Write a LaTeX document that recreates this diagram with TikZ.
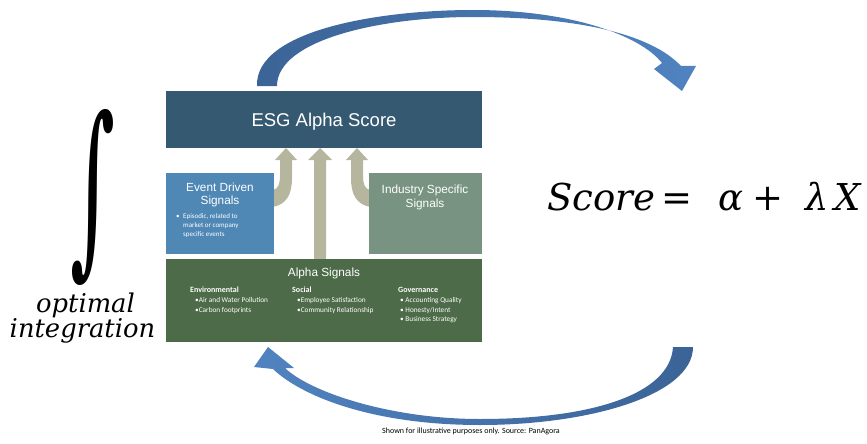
\RequirePackage{fix-cm}
\documentclass[tikz,border=0pt]{standalone}
\usepackage{fontspec}
\newfontfamily\arialf{Liberation Sans}
\newfontfamily\calf{Carlito}
\newfontfamily\cambf{DejaVu Serif}
\definecolor{esgc}{HTML}{365972}
\definecolor{eventc}{HTML}{4F87B5}
\definecolor{indc}{HTML}{789381}
\definecolor{alphac}{HTML}{4E6B49}
\definecolor{greyarr}{HTML}{B6B59E}
\definecolor{blued}{HTML}{3B6396}
\definecolor{bluel}{HTML}{5083C0}
\begin{document}
\begin{tikzpicture}[x=1pt,y=-1pt,
  box/.style={rectangle, inner sep=0pt, draw=none},
  boxtitle/.style={text=white, font=\arialf\fontsize{11.8}{13}\selectfont, inner sep=0pt, anchor=base},
  smalltxt/.style={text=white, font=\calf\fontsize{7}{8}\selectfont, inner sep=0pt, anchor=base west},
  itemtxt/.style={text=white, font=\calf\fontsize{7.3}{8}\selectfont, inner sep=0pt, anchor=base west},
  headtxt/.style={text=white, font=\calf\bfseries\fontsize{8}{9}\selectfont, inner sep=0pt, anchor=base west},
  mathtxt/.style={inner sep=0pt, font=\cambf\itshape\fontsize{25.8}{28}\selectfont},
  blockarrow/.style={fill=greyarr, draw=none},
  bigarrow/.style={draw=none}]
\useasboundingbox (0,0) rectangle (867,444);

% big blue curved arrows
\shade[bigarrow, left color=blued, right color=bluel]
  (257,86) .. controls (255,30) and (380,10) .. (473,10)
  .. controls (570,10) and (640,35) .. (662,63)
  -- (654,69) -- (682,91) -- (696,66) -- (681,66)
  .. controls (650,33) and (575,17) .. (473,17)
  .. controls (380,17) and (277,40) .. (277,86) -- cycle;
\shade[bigarrow, left color=bluel, right color=blued]
  (673,347) -- (693,347)
  .. controls (693,395) and (590,425) .. (480,425)
  .. controls (370,425) and (300,395) .. (273,369)
  -- (254,367) -- (268,347) -- (294,368) -- (285,368)
  .. controls (310,392) and (390,419) .. (480,419)
  .. controls (590,419) and (670,395) .. (673,347) -- cycle;

% grey block arrows
\fill[blockarrow] (314,259) -- (314,160) -- (308,160) -- (320,148) -- (332,160) -- (326,160) -- (326,259) -- cycle;
\fill[blockarrow] (273,207) .. controls (287,204) and (292,194) .. (292,178) -- (292,160) -- (297,160) -- (286,148) -- (275,160) -- (280,160) -- (280,176) .. controls (280,184) and (278,189) .. (273,190) -- cycle;
\fill[blockarrow] (370,207) .. controls (356,204) and (351,194) .. (351,178) -- (351,160) -- (346,160) -- (357,148) -- (368,160) -- (363,160) -- (363,176) .. controls (363,184) and (365,189) .. (370,190) -- cycle;

% boxes
\node[box, fill=esgc, minimum width=316pt, minimum height=57pt] (esg) at (324,119.5) {};
\node[box, fill=eventc, minimum width=108pt, minimum height=81pt] (event) at (220,213.5) {};
\node[box, fill=indc, minimum width=113pt, minimum height=81pt] (industry) at (425.5,213.5) {};
\node[box, fill=alphac, minimum width=316pt, minimum height=83pt] (alpha) at (324,300.5) {};

% box texts
\node[boxtitle, font=\arialf\fontsize{18.5}{20}\selectfont] (esgt) at (324,126) {ESG Alpha Score};
\node[boxtitle] (evt1) at (220,191) {Event Driven};
\node[boxtitle] (evt2) at (220,204.5) {Signals};
\node[smalltxt] (evb) at (176,218) {•};
\node[smalltxt] (evl1) at (183,218) {Episodic, related to};
\node[smalltxt] (evl2) at (183,227) {market or company};
\node[smalltxt] (evl3) at (183,236) {specific events};
\node[boxtitle] (ind1) at (425,193.5) {Industry Specific};
\node[boxtitle] (ind2) at (425,207) {Signals};
\node[boxtitle] (alt) at (324,276) {Alpha Signals};
\node[headtxt] (envh) at (190,292) {Environmental};
\node[itemtxt] (env1) at (195,302) {•Air and Water Pollution};
\node[itemtxt] (env2) at (195,312) {•Carbon footprints};
\node[headtxt] (soch) at (292,292) {Social};
\node[itemtxt] (soc1) at (297,302) {•Employee Satisfaction};
\node[itemtxt] (soc2) at (297,312) {•Community Relationship};
\node[headtxt] (govh) at (398,292) {Governance};
\node[itemtxt] (gov1) at (400,302) {• Accounting Quality};
\node[itemtxt] (gov2) at (400,312) {• Honesty/Intent};
\node[itemtxt] (gov3) at (400,321) {• Business Strategy};

% integral and labels
\node[inner sep=0pt, anchor=north west] (integral) at (70,109) {\resizebox*{45pt}{176pt}{\cambf ∫}};
\node[mathtxt, anchor=base] (opt) at (85.5,312) {optimal};
\node[mathtxt, anchor=base] (integ) at (82.5,337) {integration};

% equation
\node[inner sep=0pt, anchor=base west, font=\cambf\fontsize{37}{40}\selectfont] (score) at (547,210)
  {\itshape Score\upshape\hspace{6pt}=\hspace{26pt}\itshape α\upshape\hspace{9pt}+\hspace{22pt}\itshape λ\hspace{6pt}X};

% source
\node[inner sep=0pt, anchor=base, font=\calf\fontsize{8}{9}\selectfont] (src) at (471,433) {Shown for illustrative purposes only. Source: PanAgora};
\end{tikzpicture}
\end{document}
